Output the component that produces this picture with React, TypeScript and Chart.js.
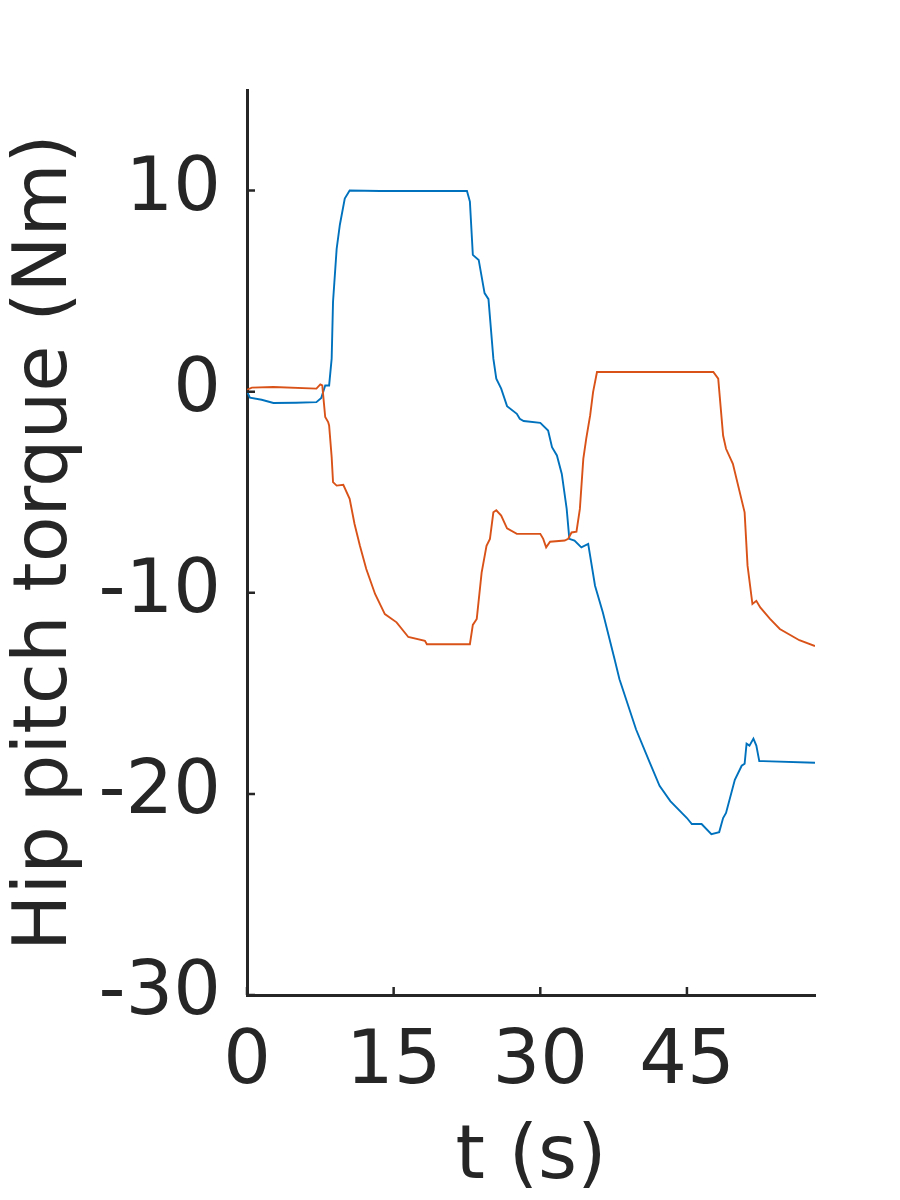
import React, { useEffect, useRef } from "react";
import { Chart, registerables } from "chart.js";

Chart.register(...registerables);

const blueTimes = [0, 0.3, 1.5, 2.7, 5.0, 7.1, 7.6, 8.0, 8.4, 8.66, 8.8, 9.17, 9.5, 10.0, 10.5, 13.6, 22.5, 22.8, 23.1, 23.7, 24.3, 24.7, 25.2, 25.5, 26.0, 26.6, 27.6, 27.9, 28.3, 30.0, 30.8, 31.2, 31.7, 32.2, 32.7, 32.97, 33.5, 34.2, 34.9, 35.6, 36.4, 37.6, 38.1, 39.8, 41.2, 42.2, 43.3, 45.0, 45.5, 46.5, 47.5, 48.3, 48.7, 49.0, 49.9, 50.6, 50.9, 51.1, 51.4, 51.8, 52.1, 52.4, 52.8, 58.1];
const blueValues = [0.0, -0.3, -0.4, -0.56, -0.55, -0.52, -0.31, 0.31, 0.31, 1.64, 4.47, 7.1, 8.3, 9.6, 10.0, 9.98, 9.98, 9.45, 6.8, 6.55, 4.9, 4.6, 1.64, 0.65, 0.15, -0.72, -1.1, -1.35, -1.46, -1.55, -1.93, -2.76, -3.17, -4.09, -5.83, -7.32, -7.41, -7.74, -7.57, -9.65, -10.98, -13.3, -14.3, -16.8, -18.45, -19.6, -20.36, -21.2, -21.5, -21.5, -22.0, -21.9, -21.2, -20.95, -19.3, -18.6, -18.5, -17.5, -17.6, -17.25, -17.6, -18.37, -18.37, -18.45];

const orangeTimes = [0, 0.5, 2.7, 7.1, 7.5, 7.7, 8.0, 8.3, 8.4, 8.66, 8.8, 9.17, 9.85, 10.5, 11.0, 11.55, 12.2, 13.1, 14.1, 15.3, 16.5, 18.2, 18.4, 22.8, 23.1, 23.5, 24.0, 24.5, 24.85, 25.2, 25.5, 26.0, 26.6, 27.6, 30.0, 30.3, 30.6, 31.0, 32.5, 32.85, 33.2, 33.7, 34.05, 34.4, 34.7, 35.1, 35.4, 35.8, 47.7, 48.2, 48.7, 49.0, 49.7, 50.9, 51.2, 51.7, 52.1, 52.5, 53.5, 54.5, 56.5, 58.1];
const orangeValues = [0.1, 0.2, 0.23, 0.15, 0.36, 0.31, -1.26, -1.51, -1.68, -3.25, -4.5, -4.67, -4.63, -5.33, -6.58, -7.66, -8.82, -10.06, -11.06, -11.47, -12.2, -12.39, -12.56, -12.56, -11.6, -11.3, -9.0, -7.66, -7.32, -6.0, -5.9, -6.16, -6.8, -7.07, -7.07, -7.32, -7.74, -7.46, -7.4, -7.32, -7.0, -6.96, -5.83, -3.34, -2.34, -1.18, -0.02, 0.98, 0.98, 0.65, -2.18, -2.84, -3.59, -6.0, -8.65, -10.56, -10.4, -10.73, -11.3, -11.8, -12.36, -12.65];

const xTicks = [0, 15, 30, 45];
const yTicks = [-30, -20, -10, 0, 10];
const xLabel = "t (s)";
const yLabel = "Hip pitch torque (Nm)";

const AXIS = "#262626";
const FONT = "'DejaVu Sans', sans-serif";

const inwardTicks = {
  id: "inwardTicks",
  afterDraw(chart: any) {
    const { ctx, chartArea, scales } = chart;
    const len = 8;
    ctx.save();
    ctx.strokeStyle = AXIS;
    ctx.lineWidth = 2.5;
    ctx.beginPath();
    xTicks.forEach((v) => {
      const px = scales.x.getPixelForValue(v);
      ctx.moveTo(px, chartArea.bottom);
      ctx.lineTo(px, chartArea.bottom - len);
    });
    yTicks.forEach((v) => {
      const py = scales.y.getPixelForValue(v);
      ctx.moveTo(chartArea.left, py);
      ctx.lineTo(chartArea.left + len, py);
    });
    ctx.stroke();
    ctx.restore();
  },
};

export default function App() {
  const ref = useRef<HTMLCanvasElement | null>(null);

  useEffect(() => {
    if (!ref.current) return;
    const chart = new Chart(ref.current, {
      type: "line",
      data: {
        datasets: [
          {
            label: "orange",
            data: orangeTimes.map((t, i) => ({ x: t, y: orangeValues[i] })),
            borderColor: "#D95319",
            borderWidth: 1.9,
            pointRadius: 0,
            tension: 0,
            fill: false,
          },
          {
            label: "blue",
            data: blueTimes.map((t, i) => ({ x: t, y: blueValues[i] })),
            borderColor: "#0072BD",
            borderWidth: 1.9,
            pointRadius: 0,
            tension: 0,
            fill: false,
          },
        ],
      },
      options: {
        responsive: false,
        animation: false,
        devicePixelRatio: 1,
        layout: { padding: { left: 0, top: 90, right: 85, bottom: 0 } },
        plugins: { legend: { display: false }, tooltip: { enabled: false } },
        scales: {
          x: {
            type: "linear",
            min: 0,
            max: 58.1,
            afterBuildTicks: (s: any) => {
              s.ticks = xTicks.map((v) => ({ value: v }));
            },
            afterFit: (s: any) => {
              s.height = 205;
            },
            grid: { display: false, drawTicks: false },
            border: { display: true, color: AXIS, width: 3 },
            ticks: {
              color: AXIS,
              font: { family: FONT, size: 75 },
              padding: 24,
              maxRotation: 0,
              autoSkip: false,
            },
            title: {
              display: true,
              text: xLabel,
              color: AXIS,
              font: { family: FONT, size: 75, lineHeight: 1.1 },
              padding: { top: 0, bottom: 0 },
            },
          },
          y: {
            type: "linear",
            min: -30,
            max: 15,
            afterBuildTicks: (s: any) => {
              s.ticks = yTicks.map((v) => ({ value: v }));
            },
            afterFit: (s: any) => {
              s.width = 247;
            },
            grid: { display: false, drawTicks: false },
            border: { display: true, color: AXIS, width: 3 },
            ticks: {
              color: AXIS,
              font: { family: FONT, size: 75 },
              padding: 26,
              autoSkip: false,
            },
            title: {
              display: true,
              text: yLabel,
              color: AXIS,
              font: { family: FONT, size: 75, lineHeight: 1.1 },
              padding: { top: 5, bottom: 0 },
            },
          },
        },
      },
      plugins: [inwardTicks],
    });
    return () => chart.destroy();
  }, []);

  return (
    <div style={{ position: "absolute", left: 0, top: 0, width: 900, height: 1200, background: "#fff" }}>
      <canvas ref={ref} width={900} height={1200} style={{ display: "block" }} />
    </div>
  );
}
